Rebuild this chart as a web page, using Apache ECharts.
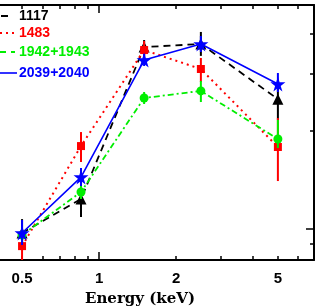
<!DOCTYPE html>
<html><head><meta charset="utf-8">
<script src="https://cdn.jsdelivr.net/npm/echarts@6/dist/echarts.min.js"></script>
<style>html,body{margin:0;padding:0;background:#fff}#c{width:316px;height:308px}</style>
</head><body><div id="c"></div>
<script>
// Energy bins (keV)
const energies = [0.5, 0.85, 1.5, 2.5, 5];
const seriesNames = ['1117', '1483', '1942+1943', '2039+2040'];
// values and error-bar limits
const v1117  = [0.972, 1.237, 3.63, 3.71, 2.51];
const lo1117 = [0.886, 1.089, 3.41, 3.41, 2.165];
const hi1117 = [1.073, 1.337, 3.815, 4.04, 2.716];
const v1483  = [0.886, 1.80, 3.554, 3.107, 1.788];
const lo1483 = [0.70, 1.608, 3.36, 2.834, 1.405];
const hi1483 = [0.972, 1.988, 3.79, 3.36, 2.195];
const v1942  = [0.958, 1.30, 2.53, 2.66, 1.892];
const lo1942 = [0.912, 1.237, 2.425, 2.459, 1.775];
const hi1942 = [1.007, 1.366, 2.64, 2.854, 2.165];
const v2039  = [0.972, 1.445, 3.311, 3.71, 2.793];
const lo2039 = [0.893, 1.356, 3.174, 3.505, 2.64];
const hi2039 = [1.066, 1.541, 3.455, 3.925, 3.02];
// axis ticks
const xTickLabels = [0.5, 1, 2, 5];
const xMinorTicks = [0.5, 0.6, 0.7, 0.8, 0.9, 2, 3, 4, 5, 6];
const xMajorTicks = [1];
const yMinorTicks = [0.9, 2, 3, 4];
const yMajorTicks = [1];
const xRange = [0.41, 6.92];
const yRange = [0.803, 4.89];

const L = Math.log10;
const colors = ['#000000', '#ff0000', '#00ee00', '#0000ff'];
const vals = [v1117, v1483, v1942, v2039];
const los = [lo1117, lo1483, lo1942, lo2039];
const his = [hi1117, hi1483, hi1942, hi2039];
const dashes = [[7, 5], [2, 4], [6, 3, 2, 3], null];
const widths = [1.8, 2, 1.8, 1.6];
const star = 'path://M50,0 L61,35 L98,35 L68,57 L79,91 L50,70 L21,91 L32,57 L2,35 L39,35 Z';
const symbols = ['triangle', 'rect', 'circle', star];
const symSizes = [11, 8, 9, 15];

const xMin = L(xRange[0]), xMax = L(xRange[1]);
const yMin = L(yRange[0]), yMax = L(yRange[1]);

function xAx(pos, ticks, len, showLine, labels) {
  return {
    type: 'value', position: pos, min: xMin, max: xMax, gridIndex: 0,
    axisLine: {show: showLine, onZero: false, lineStyle: {color: '#000', width: 2}},
    axisTick: {show: true, inside: true, length: len, customValues: ticks.map(L), lineStyle: {color: '#000', width: 1.5}},
    axisLabel: labels ? {show: true, customValues: labels.map(L), margin: 11,
      formatter: v => String(Math.round(Math.pow(10, v) * 100) / 100),
      color: '#000', fontFamily: 'Liberation Sans', fontWeight: 'bold', fontSize: 15} : {show: false},
    splitLine: {show: false}
  };
}
function yAx(ticks, len, showLine) {
  return {
    type: 'value', position: 'right', min: yMin, max: yMax,
    axisLine: {show: showLine, onZero: false, lineStyle: {color: '#000', width: 2}},
    axisTick: {show: true, inside: true, length: len, customValues: ticks.map(L), lineStyle: {color: '#000', width: 1.5}},
    axisLabel: {show: false},
    splitLine: {show: false}
  };
}

const series = [];
for (let i = 0; i < 4; i++) {
  const errData = energies.map((e, j) => [L(e), L(los[i][j]), L(his[i][j])]);
  series.push({
    type: 'custom', name: seriesNames[i] + ' err', xAxisIndex: 0, yAxisIndex: 0, clip: true,
    data: errData, z: 2 + i * 2,
    renderItem: (params, api) => {
      const p1 = api.coord([api.value(0), api.value(1)]);
      const p2 = api.coord([api.value(0), api.value(2)]);
      return {type: 'line', shape: {x1: p1[0], y1: p1[1], x2: p2[0], y2: p2[1]},
        style: {stroke: colors[i], lineWidth: 2}};
    }
  });
  series.push({
    type: 'line', name: seriesNames[i], xAxisIndex: 0, yAxisIndex: 0,
    data: energies.map((e, j) => [L(e), L(vals[i][j])]),
    symbol: symbols[i], symbolSize: symSizes[i], showSymbol: true,
    itemStyle: {color: colors[i]},
    lineStyle: {color: colors[i], width: widths[i], type: dashes[i] || 'solid'},
    z: 3 + i * 2, animation: false
  });
}

const legendY = [16, 33, 52, 73];
const graphic = [];
seriesNames.forEach((n, i) => {
  graphic.push({type: 'text', x: 19, y: legendY[i],
    style: {text: n, fill: colors[i], fontFamily: 'Liberation Sans', fontWeight: 'bold', fontSize: 14,
      align: 'left', verticalAlign: 'middle'}});
});
graphic.push({type: 'line', shape: {x1: 1, y1: 16, x2: 8, y2: 16}, style: {stroke: '#000', lineWidth: 2}});
graphic.push({type: 'line', shape: {x1: 0, y1: 33, x2: 17, y2: 33}, style: {stroke: '#ff0000', lineWidth: 2, lineDash: [2, 4]}});
graphic.push({type: 'line', shape: {x1: 0, y1: 52, x2: 17, y2: 52}, style: {stroke: '#00ee00', lineWidth: 2, lineDash: [6, 5, 4, 5]}});
graphic.push({type: 'line', shape: {x1: 0, y1: 73, x2: 17, y2: 73}, style: {stroke: '#0000ff', lineWidth: 1.6}});
graphic.push({type: 'text', x: 140, y: 299,
  style: {text: 'Energy (keV)', fill: '#000', fontFamily: 'DejaVu Serif', fontWeight: 'bold', fontSize: 15,
    align: 'center', verticalAlign: 'middle'}});

const chart = echarts.init(document.getElementById('c'), null, {renderer: 'canvas'});
chart.setOption({
  animation: false,
  backgroundColor: '#fff',
  grid: {left: 0, right: 2, top: 5, bottom: 48, containLabel: false},
  xAxis: [
    xAx('bottom', xMinorTicks, 4, true, xTickLabels),
    xAx('bottom', xMajorTicks, 8, false, null),
    xAx('top', xMinorTicks, 4, true, null),
    xAx('top', xMajorTicks, 8, false, null)
  ],
  yAxis: [yAx(yMinorTicks, 4, true), yAx(yMajorTicks, 8, false)],
  series: series,
  graphic: graphic
});
</script></body></html>
